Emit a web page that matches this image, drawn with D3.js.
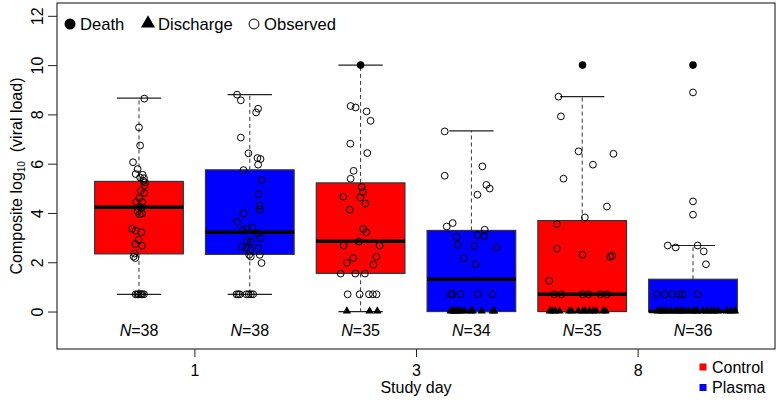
<!DOCTYPE html>
<html><head><meta charset="utf-8">
<script src="https://cdn.jsdelivr.net/npm/d3@7"></script>
<style>
body{margin:0;background:#fff}
svg{display:block}
text{font-family:"Liberation Sans",Arial,Helvetica,sans-serif;fill:#000}
</style>
</head><body>
<svg id="c" width="779" height="408"></svg>
<script>
// ---------- data ----------
const dayLabels = ["1", "3", "8"];
const dayTickPos = [1.5, 3.5, 5.5];
const groupArm = ["Control", "Plasma", "Control", "Plasma", "Control", "Plasma"];
const nCounts = [38, 38, 35, 34, 35, 36];
const yTicks = [0, 2, 4, 6, 8, 10, 12];

// box statistics
const boxQ1 = [2.34, 2.32, 1.55, 0, 0, 0];
const boxMedian = [4.23, 3.22, 2.85, 1.31, 0.70, 0.0];
const boxQ3 = [5.28, 5.75, 5.22, 3.29, 3.69, 1.31];
const whiskLo = [0.70, 0.70, 0, 0, 0, 0];
const whiskHi = [8.66, 8.80, 10.0, 7.33, 8.72, 2.68];

// points per group: [value, jitter (x units), type]  o=observed d=death t=discharge
const g1 = [[8.64,0.048,"o"],[7.47,0,"o"],[6.74,0.01,"o"],[6.06,-0.054,"o"],[5.78,-0.012,"o"],[5.58,-0.03,"o"],
 [5.55,0.033,"o"],[5.44,0.01,"o"],[5.41,0.045,"o"],[5.30,0.04,"o"],[5.24,0.054,"o"],[5.12,0.051,"o"],[4.90,0.015,"o"],
 [4.81,0.048,"o"],[4.60,0.003,"o"],[4.44,-0.024,"o"],[4.44,0.03,"o"],[4.26,0.007,"o"],[4.20,0.02,"o"],[4.06,-0.012,"o"],
 [3.98,0.027,"o"],[3.95,0.006,"o"],[3.36,-0.063,"o"],[3.28,-0.03,"o"],[3.22,0.021,"o"],[2.91,-0.003,"o"],
 [2.74,-0.033,"o"],[2.67,0.027,"o"],[2.35,-0.04,"o"],[2.23,-0.048,"o"],[2.17,-0.033,"o"],
 [0.7,-0.03,"o"],[0.7,-0.015,"o"],[0.7,-0.005,"o"],[0.7,0.01,"o"],[0.7,0.02,"o"],[0.7,0.03,"o"],[0.7,0.045,"o"]];
const g2 = [[8.80,-0.115,"o"],[8.57,-0.081,"o"],[8.23,0.075,"o"],[8.08,0.057,"o"],[7.06,-0.081,"o"],[6.42,-0.012,"o"],
 [6.23,0.069,"o"],[6.19,0.097,"o"],[5.96,0.075,"o"],[5.74,-0.057,"o"],[5.33,0.106,"o"],[4.77,0.079,"o"],[4.30,0.09,"o"],
 [4.14,0.088,"o"],[3.98,-0.057,"o"],[3.65,-0.115,"o"],[3.30,-0.063,"o"],[3.41,0.021,"o"],[3.36,-0.027,"o"],
 [3.17,0.069,"o"],[2.98,0.097,"o"],[2.87,-0.021,"o"],[2.82,0.012,"o"],[2.63,-0.069,"o"],[2.57,-0.03,"o"],
 [2.48,0.006,"o"],[2.57,0.079,"o"],[2.30,0.09,"o"],[2.30,-0.006,"o"],[2.23,0.009,"o"],[1.97,0.106,"o"],
 [0.7,-0.12,"o"],[0.7,-0.105,"o"],[0.7,-0.09,"o"],[0.7,-0.03,"o"],[0.7,-0.01,"o"],[0.7,0.01,"o"],[0.7,0.03,"o"]];
const g3 = [[10.0,0,"d"],[8.34,-0.09,"o"],[8.28,-0.045,"o"],[8.12,0.054,"o"],[7.74,0.09,"o"],[6.81,-0.093,"o"],
 [6.43,0.06,"o"],[5.71,-0.063,"o"],[5.39,-0.09,"o"],[5.05,0.009,"o"],[4.85,0.021,"o"],[4.66,-0.156,"o"],
 [4.63,-0.003,"o"],[4.38,0.042,"o"],[4.13,-0.099,"o"],[3.35,0.024,"o"],[3.22,0.051,"o"],[2.84,-0.015,"o"],
 [2.68,-0.153,"o"],[2.68,0.171,"o"],[2.22,0.142,"o"],[2.17,-0.066,"o"],[1.98,-0.124,"o"],[1.90,0.115,"o"],
 [1.54,-0.18,"o"],[1.54,-0.048,"o"],[1.54,0.039,"o"],
 [0.7,-0.117,"o"],[0.7,-0.009,"o"],[0.7,0.075,"o"],[0.7,0.111,"o"],[0.7,0.144,"o"],
 [0,-0.124,"t"],[0,0.081,"t"],[0,0.151,"t"]];
const g4 = [[7.31,-0.241,"o"],[5.89,0.099,"o"],[5.51,-0.241,"o"],[5.14,0.135,"o"],[4.99,0.165,"o"],[4.74,0.054,"o"],
 [3.59,-0.169,"o"],[3.45,-0.223,"o"],[3.32,0.12,"o"],[3.10,0.054,"o"],[3.05,0.114,"o"],[3.02,-0.133,"o"],
 [2.71,-0.124,"o"],[2.67,0.021,"o"],[2.61,0.226,"o"],[2.15,-0.067,"o"],[1.91,0.039,"o"],
 [0.7,-0.187,"o"],[0.7,-0.173,"o"],[0.7,-0.099,"o"],[0.7,0.057,"o"],[0.7,0.19,"o"],
 [0,-0.187,"t"],[0,-0.169,"t"],[0,-0.151,"t"],[0,-0.133,"t"],[0,-0.115,"t"],[0,-0.088,"t"],
 [0,-0.06,"t"],[0,-0.006,"t"],[0,0.012,"t"],[0,0.093,"t"],[0,0.192,"t"],[0,0.206,"t"]];
const g5 = [[10.0,0.003,"d"],[8.72,-0.214,"o"],[7.92,-0.192,"o"],[6.50,-0.033,"o"],[6.40,0.282,"o"],[5.96,0.097,"o"],
 [5.39,-0.169,"o"],[4.26,0.223,"o"],[3.82,0.024,"o"],[3.55,-0.228,"o"],[2.55,-0.228,"o"],[2.31,0.003,"o"],
 [2.22,0.253,"o"],[2.27,0.271,"o"],[1.25,-0.298,"o"],
 [0.7,-0.253,"o"],[0.7,-0.187,"o"],[0.7,0.003,"o"],[0.7,0.057,"o"],[0.7,0.165,"o"],[0.7,0.223,"o"],
 [0,-0.293,"t"],[0,-0.271,"t"],[0,-0.244,"t"],[0,-0.205,"t"],[0,-0.117,"t"],[0,-0.095,"t"],[0,-0.036,"t"],
 [0,0.006,"t"],[0,0.027,"t"],[0,0.066,"t"],[0,0.099,"t"],[0,0.126,"t"],[0,0.19,"t"],[0,0.212,"t"]];
const g6 = [[10.0,0,"d"],[8.89,0,"o"],[4.47,0,"o"],[3.93,0,"o"],[2.68,-0.228,"o"],[2.60,-0.156,"o"],
 [2.68,0.042,"o"],[2.44,0.097,"o"],[1.92,0.117,"o"],
 [0.7,-0.328,"o"],[0.7,-0.253,"o"],[0.7,-0.19,"o"],[0.7,-0.124,"o"],[0.7,-0.093,"o"],[0.7,0.042,"o"],
 [0,-0.316,"t"],[0,-0.289,"t"],[0,-0.262,"t"],[0,-0.235,"t"],[0,-0.199,"t"],[0,-0.162,"t"],[0,-0.135,"t"],
 [0,-0.108,"t"],[0,-0.081,"t"],[0,-0.045,"t"],[0,-0.009,"t"],[0,0.018,"t"],[0,0.036,"t"],[0,0.09,"t"],
 [0,0.126,"t"],[0,0.162,"t"],[0,0.189,"t"],[0,0.226,"t"],[0,0.307,"t"],[0,0.343,"t"],[0,0.379,"t"]];
const groupPoints = [g1, g2, g3, g4, g5, g6];

const armColor = {Control: "#FF0000", Plasma: "#0000FF"};
const topLegend = [{label: "Death", type: "d"}, {label: "Discharge", type: "t"}, {label: "Observed", type: "o"}];
const armLegend = ["Control", "Plasma"];

// ---------- drawing ----------
const L = 57, R = 775, T = 3, B = 349;
const svg = d3.select("#c");
const x = d3.scaleLinear().domain([0.26, 6.74]).range([L, R]);
const y = d3.scaleLinear().domain([-1.52, 12.52]).range([B, T]);
const boxHalf = 0.4, capHalf = 0.2;
const fs = 16;

// axes
const ya = svg.append("g").attr("transform", `translate(${L},0)`)
  .call(d3.axisLeft(y).tickValues(yTicks).tickSize(9).tickFormat(d3.format("d")));
ya.select(".domain").remove();
ya.selectAll(".tick line").attr("stroke", "#222");
ya.selectAll(".tick text").attr("x", 0).attr("y", -14).attr("dy", 0)
  .attr("transform", "rotate(-90)").attr("text-anchor", "middle").style("font-size", fs + "px");

const xa = svg.append("g").attr("transform", `translate(0,${B})`)
  .call(d3.axisBottom(x).tickValues(dayTickPos).tickSize(8).tickFormat((d, i) => dayLabels[i]));
xa.select(".domain").remove();
xa.selectAll(".tick line").attr("stroke", "#222");
xa.selectAll(".tick text").attr("y", 27).attr("dy", 0).style("font-size", fs + "px");

// frame
svg.append("rect").attr("x", L).attr("y", T).attr("width", R - L).attr("height", B - T)
  .attr("fill", "none").attr("stroke", "#333").attr("stroke-width", 1.2);

// boxes
const idx = d3.range(6);
const gb = svg.append("g");
idx.forEach(i => {
  const c = i + 1;
  gb.append("line").attr("x1", x(c)).attr("x2", x(c)).attr("y1", y(boxQ3[i])).attr("y2", y(whiskHi[i]))
    .attr("stroke", "#333").attr("stroke-dasharray", "4,3");
  gb.append("line").attr("x1", x(c)).attr("x2", x(c)).attr("y1", y(boxQ1[i])).attr("y2", y(whiskLo[i]))
    .attr("stroke", "#333").attr("stroke-dasharray", "4,3");
  [whiskHi[i], whiskLo[i]].forEach(v => {
    gb.append("line").attr("x1", x(c - capHalf)).attr("x2", x(c + capHalf)).attr("y1", y(v)).attr("y2", y(v))
      .attr("stroke", "#222").attr("stroke-width", 1.2);
  });
  gb.append("rect").attr("x", x(c - boxHalf)).attr("width", x(c + boxHalf) - x(c - boxHalf))
    .attr("y", y(boxQ3[i])).attr("height", y(boxQ1[i]) - y(boxQ3[i]))
    .attr("fill", armColor[groupArm[i]]).attr("stroke", "#333").attr("stroke-width", 1.2);
  gb.append("line").attr("x1", x(c - boxHalf)).attr("x2", x(c + boxHalf))
    .attr("y1", y(boxMedian[i])).attr("y2", y(boxMedian[i])).attr("stroke", "#000").attr("stroke-width", 3.5);
});

// points
const tri = d3.symbol().type(d3.symbolTriangle);
function drawMark(g, px, py, type, scale) {
  if (type === "o") {
    g.append("circle").attr("cx", px).attr("cy", py).attr("r", 3.4 * scale)
      .attr("fill", "none").attr("stroke", "#000").attr("stroke-width", 1);
  } else if (type === "d") {
    g.append("circle").attr("cx", px).attr("cy", py).attr("r", 3.8 * scale).attr("fill", "#000");
  } else {
    g.append("path").attr("d", tri.size(30 * scale * scale)()).attr("transform", `translate(${px},${py - 0.5})`)
      .attr("fill", "#000");
  }
}
const gp = svg.append("g");
groupPoints.forEach((pts, i) => {
  pts.forEach(p => drawMark(gp, x(i + 1 + p[1]), y(p[0]), p[2], 1));
});

// N labels
idx.forEach(i => {
  const t = svg.append("text").attr("x", x(i + 1)).attr("y", 336).attr("text-anchor", "middle")
    .style("font-size", fs + "px");
  t.append("tspan").style("font-style", "italic").text("N");
  t.append("tspan").text("=" + nCounts[i]);
});

// top legend
const legX = [70, 148, 254];
topLegend.forEach((d, k) => {
  drawMark(svg, legX[k], 24, d.type, d.type === "t" ? 1.7 : 1.45);
  svg.append("text").attr("x", legX[k] + 10).attr("y", 30).style("font-size", "16.6px").text(d.label);
});

// arm legend
armLegend.forEach((a, k) => {
  const cy = 367 + k * 20.5;
  svg.append("rect").attr("x", 699.5).attr("y", cy - 3.5).attr("width", 7).attr("height", 7).attr("fill", armColor[a]);
  svg.append("text").attr("x", 712).attr("y", cy + 5.5).style("font-size", fs + "px").text(a);
});

// axis titles
svg.append("text").attr("x", (L + R) / 2).attr("y", 393).attr("text-anchor", "middle")
  .style("font-size", fs + "px").text("Study day");
const yl = svg.append("text").attr("transform", `translate(22,${(T + B) / 2}) rotate(-90)`)
  .attr("text-anchor", "middle").style("font-size", fs + "px");
yl.append("tspan").text("Composite log");
yl.append("tspan").attr("dy", 3).style("font-size", "10px").text("10");
yl.append("tspan").attr("dy", -3).text("\u00a0\u00a0(viral load)");
</script>
</body></html>
